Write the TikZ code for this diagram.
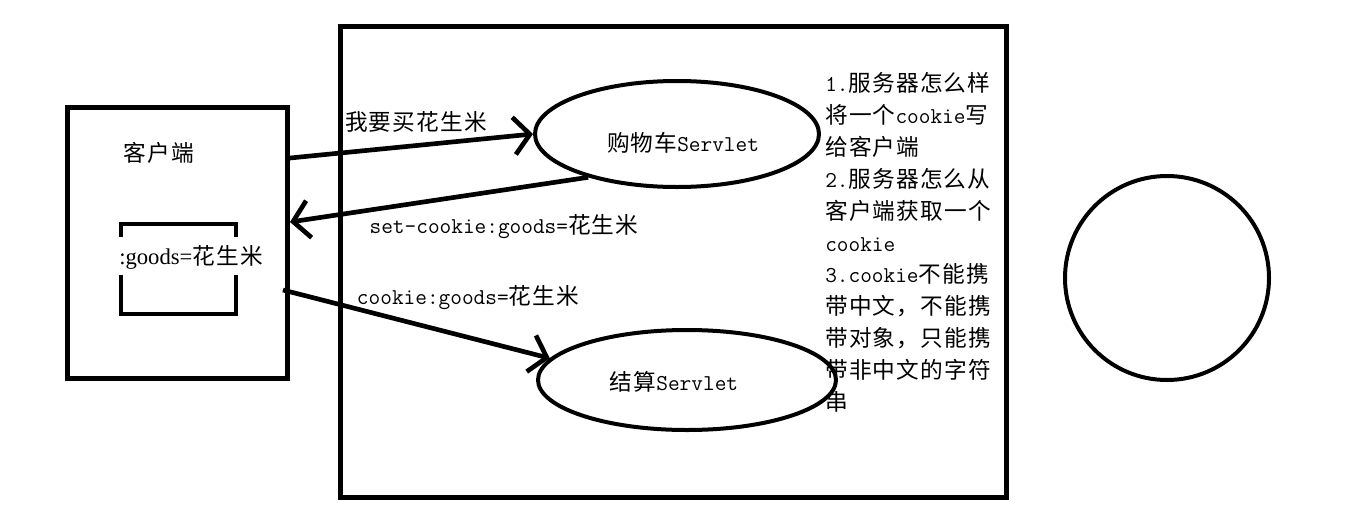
\documentclass[tikz,border=0pt]{standalone}
\usepackage{fontspec}
\newfontfamily\cjk[LetterSpace=5]{Noto Sans CJK SC}
\newfontfamily\serifl{Liberation Serif}
\usetikzlibrary{shapes.geometric,arrows.meta}
\newcommand\zh[1]{{\cjk #1}}
\begin{document}
\begin{tikzpicture}[x=0.75pt,y=-0.75pt,
  box/.style={draw,line width=3.75pt,inner sep=0pt},
  ell/.style={draw,ellipse,line width=3pt,inner sep=0pt},
  txt/.style={inner sep=0pt,font=\fontsize{17}{20}\selectfont\ttfamily},
  rline/.style={txt,anchor=base west},
  arr/.style={line width=3.5pt,-{Straight Barb[length=12pt,width=28pt]}}]
\useasboundingbox (0,0) rectangle (1360,525);
% boxes
\node[box,minimum width=165pt,minimum height=202.9pt] (client) at (177.5,243.25) {};
\node[box,minimum width=499.5pt,minimum height=352.9pt] (server) at (673.5,262.25) {};
\node[ell,minimum width=213pt,minimum height=79.5pt] (e1) at (677,134) {};
\node[ell,minimum width=223.5pt,minimum height=75pt] (e2) at (687,380) {};
\node[draw,circle,line width=3pt,inner sep=0pt,minimum size=153pt] (c) at (1167,278) {};
% cookie bracket
\draw[line width=3pt] (121,237) |- (236,224) -- (236,237);
\draw[line width=3pt] (121,275) |- (236,314) -- (236,275);
% texts
\node[txt] (tclient) at (159,153) {\zh{客户端}};
\node[inner sep=0pt,font=\fontsize{17}{20}\selectfont] (tgoods) at (191,257) {{\serifl :goods=}\zh{花生米}};
\node[txt] (t1) at (683,143) {\zh{购物车}Servlet};
\node[txt] (t2) at (674,382) {\zh{结算}Servlet};
\node[txt] (l1) at (416,122) {\zh{我要买花生米}};
\node[txt] (l2) at (504,227) {set-cookie:goods=\zh{花生米}};
\node[txt] (l3) at (468,298) {cookie:goods=\zh{花生米}};
% right notes
\node[rline] (r1) at (825,91.5) {1.\zh{服务器怎么样}};
\node[rline] (r2) at (825,123.4) {\zh{将一个}cookie\zh{写}};
\node[rline] (r3) at (825,155.3) {\zh{给客户端}};
\node[rline] (r4) at (825,187.2) {2.\zh{服务器怎么从}};
\node[rline] (r5) at (825,219.1) {\zh{客户端获取一个}};
\node[rline] (r6) at (825,251) {cookie};
\node[rline] (r7) at (825,282.9) {3.cookie\zh{不能携}};
\node[rline] (r8) at (825,314.8) {\zh{带中文，不能携}};
\node[rline] (r9) at (825,346.7) {\zh{带对象，只能携}};
\node[rline] (r10) at (825,378.6) {\zh{带非中文的字符}};
\node[rline] (r11) at (825,410.5) {\zh{串}};
% arrows
\coordinate (p1) at (290,158);
\coordinate (p2) at (290,222);
\coordinate (p3) at (283,290);
\draw[arr] (p1) -- (e1.west);
\draw[arr] (e1.206) -- (p2);
\draw[arr] (p3) -- (e2.171);
\end{tikzpicture}
\end{document}
